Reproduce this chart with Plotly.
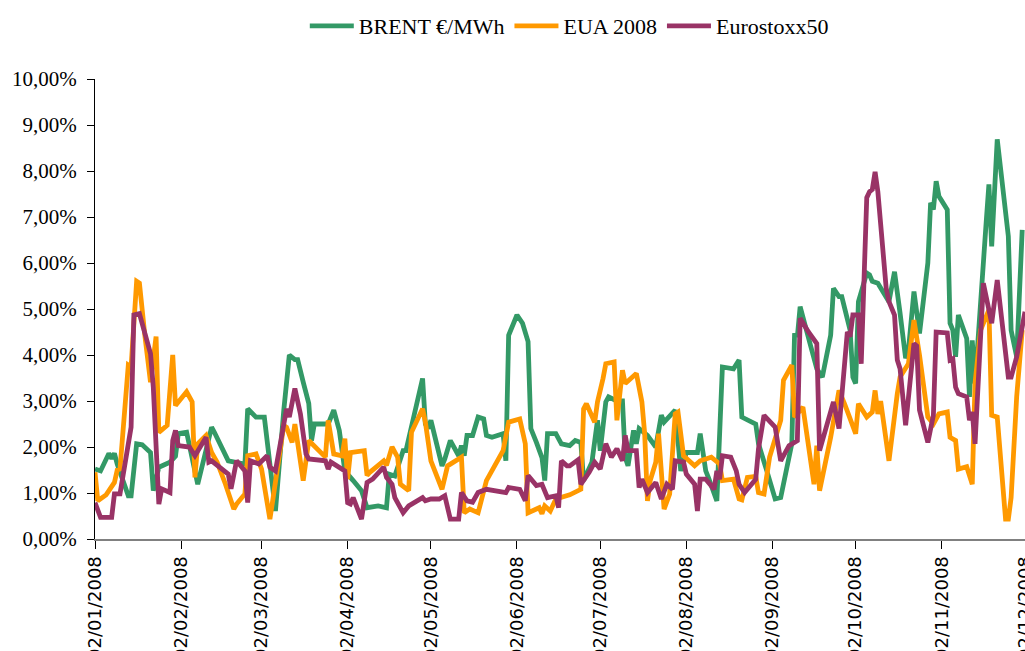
import pandas as pd
import plotly.graph_objects as go

START = "2008-01-02"

# day offsets from 02/01/2008 and volatility values in %
brent_day = [0, 2, 5, 6, 7, 8, 12, 13, 15, 17, 20, 21, 23, 27, 29, 30, 33, 37, 42, 43,
             48, 54, 55, 58, 61, 65, 68, 70, 72, 73, 75, 77, 78, 79, 84, 86, 88, 90, 93, 96,
             98, 102, 105, 106, 108, 111, 112, 118, 119, 120, 121, 125, 126, 128, 131, 132,
             133, 134, 136, 138, 140, 141, 143, 147, 148, 149, 152, 154, 156, 157, 159, 161,
             162, 163, 166, 168, 171, 173, 175, 176, 179, 181, 182, 184, 185, 188, 190, 191,
             192, 194, 195, 196, 199, 202, 204, 205, 209, 211, 213, 217, 218, 220, 221, 224,
             226, 230, 232, 233, 238, 239, 242, 245, 247, 251, 252, 253, 254, 257, 260, 262,
             265, 266, 268, 269, 272, 273, 274, 275, 278, 279, 280, 282, 285, 286, 288, 289,
             290, 292, 293, 295, 296, 297, 300, 301, 302, 303, 304, 307, 308, 309, 310, 311,
             314, 315, 316, 317, 321, 322, 323, 325, 329, 330, 332, 334]
brent_val = [1.52, 1.48, 1.86, 1.75, 1.86, 1.63, 0.94, 0.94, 2.07, 2.05, 1.88, 1.05, 1.56, 1.67, 1.80, 2.29, 2.32, 1.19, 2.43, 2.32,
             1.70, 1.63, 2.83, 2.65, 2.65, 0.61, 2.80, 4.00, 3.90, 3.90, 3.41, 2.95, 2.14, 2.50, 2.50, 2.80, 2.36, 1.48, 1.27, 1.05,
             0.68, 0.72, 0.68, 1.41, 1.37, 1.92, 1.92, 3.49, 2.50, 2.40, 2.58, 1.59, 1.74, 2.14, 1.81, 2.03,
             1.81, 2.25, 2.25, 2.65, 2.61, 2.25, 2.21, 2.29, 1.70, 4.43, 4.87, 4.69, 4.29, 2.40, 2.10, 1.77,
             1.27, 2.29, 2.29, 2.07, 2.03, 2.14, 2.10, 1.27, 1.67, 2.58, 1.92, 2.98, 3.09, 3.00, 3.00, 1.77,
             1.59, 2.36, 2.07, 2.40, 2.25, 2.00, 2.69, 2.54, 2.80, 1.48, 1.88, 1.88, 2.29, 1.48, 1.33, 0.83,
             3.74, 3.70, 3.89, 2.65, 2.50, 2.07, 1.48, 0.87, 0.90, 2.07, 4.47, 4.40, 5.05, 4.40, 3.70, 3.52,
             4.43, 5.45, 5.27, 5.27, 4.54, 3.52, 3.38, 5.16, 5.78, 5.74, 5.60, 5.56, 5.23, 5.16, 5.81, 5.27,
             4.91, 3.93, 4.10, 5.38, 4.98, 4.47, 6.00, 7.31, 7.16, 7.78, 7.45, 7.16, 4.69, 4.54, 3.96, 4.87,
             4.36, 3.09, 4.32, 3.38, 6.87, 7.71, 6.36, 8.69, 6.58, 4.54, 3.96, 6.72]

eua_day = [0, 1, 4, 7, 8, 9, 12, 13, 15, 16, 18, 20, 22, 23, 26, 28, 29, 33, 35, 36,
           37, 40, 42, 44, 47, 50, 51, 54, 55, 58, 60, 63, 64, 68, 69, 71, 72, 75, 77, 83,
           84, 86, 89, 90, 91, 92, 97, 98, 99, 104, 105, 107, 109, 110, 113, 114, 118, 119, 121, 125,
           127, 129, 132, 133, 135, 138, 141, 147, 149, 153, 155, 156, 160, 161, 162, 164, 166, 171, 175, 176,
           177, 180, 181, 183, 184, 187, 188, 190, 191, 195, 197, 198, 199, 200, 202, 203, 205, 207, 209, 210,
           212, 216, 218, 222, 225, 226, 230, 232, 233, 235, 238, 239, 241, 243, 247, 248, 251, 252, 255, 259,
           260, 261, 265, 268, 270, 274, 275, 278, 280, 281, 282, 283, 286, 289, 290, 293, 295, 297, 300, 302,
           304, 307, 308, 310, 311, 314, 316, 317, 319, 322, 323, 325, 328, 329, 330, 332, 334]
eua_val = [1.45, 0.83, 0.96, 1.23, 1.50, 1.52, 3.78, 3.74, 5.60, 5.56, 4.40, 3.41, 4.40, 2.32, 2.47, 4.00, 2.90, 3.20, 2.98, 1.34,
           2.07, 2.25, 1.88, 1.67, 1.19, 0.65, 0.76, 0.98, 1.81, 1.85, 1.52, 0.43, 0.83, 2.47, 2.43, 2.10, 2.50, 1.27, 2.14, 1.78,
           2.58, 1.85, 1.81, 2.18, 1.30, 1.88, 1.92, 1.38, 1.45, 1.70, 1.60, 2.00, 1.78, 1.19, 1.05, 2.32, 2.83, 2.54, 1.70, 1.08,
           1.59, 1.67, 1.78, 0.57, 0.65, 0.57, 1.27, 1.92, 2.54, 2.61, 2.07, 0.57, 0.68, 0.55, 0.72, 0.61, 0.87, 0.96, 1.08, 2.83,
           2.94, 2.54, 2.98, 3.49, 3.81, 3.85, 2.58, 3.67, 3.38, 3.60, 2.98, 2.29, 0.83, 1.27, 1.67, 2.29, 0.65, 0.98, 2.72, 2.76,
           1.81, 1.59, 1.70, 1.78, 1.63, 1.27, 1.30, 0.87, 0.85, 1.34, 1.36, 1.01, 0.98, 1.78, 2.58, 3.45, 3.78, 2.65, 2.87, 1.19,
           2.03, 1.05, 2.21, 3.23, 2.94, 2.29, 2.94, 2.65, 2.76, 3.23, 2.72, 3.00, 1.70, 3.16, 3.52, 3.81, 4.76, 4.00, 2.65, 2.50,
           2.72, 2.76, 2.21, 2.14, 1.52, 1.57, 1.19, 3.38, 4.54, 4.98, 2.69, 2.65, 0.43, 0.43, 0.90, 3.09, 4.54]

stoxx_day = [0, 2, 6, 7, 9, 11, 13, 14, 16, 20, 21, 23, 24, 27, 28, 29, 30, 34, 36, 40,
             41, 42, 44, 48, 49, 51, 54, 55, 56, 59, 62, 63, 65, 69, 70, 72, 74, 76, 77, 83,
             84, 85, 90, 91, 92, 93, 96, 98, 100, 104, 105, 107, 108, 111, 113, 116, 118, 119, 121, 124,
             126, 128, 131, 132, 134, 136, 138, 141, 148, 149, 153, 155, 156, 159, 161, 163, 166, 167, 168, 170,
             171, 174, 175, 178, 180, 182, 184, 186, 188, 190, 191, 192, 195, 196, 197, 199, 202, 204, 206, 208,
             209, 212, 213, 216, 217, 218, 220, 223, 224, 225, 226, 229, 231, 232, 234, 238, 239, 241, 245, 247,
             250, 253, 254, 257, 259, 260, 261, 265, 266, 268, 271, 272, 273, 275, 276, 278, 279, 280, 281, 282,
             285, 286, 288, 289, 290, 292, 295, 296, 297, 300, 302, 303, 307, 308, 309, 310, 311, 314, 315, 316,
             317, 320, 323, 325, 329, 330, 332, 335]
stoxx_val = [0.79, 0.47, 0.47, 0.98, 0.98, 1.78, 2.43, 4.87, 4.90, 4.03, 3.30, 0.76, 1.09, 1.01, 2.14, 2.36, 2.03, 2.00, 1.81, 2.21,
             1.67, 1.70, 1.60, 1.41, 1.09, 1.70, 1.48, 0.79, 1.70, 1.63, 1.81, 1.56, 1.48, 2.83, 2.65, 3.27, 2.72, 1.85, 1.74, 1.70,
             1.52, 1.67, 1.48, 0.79, 0.76, 0.90, 0.43, 1.23, 1.30, 1.56, 1.34, 1.19, 0.90, 0.57, 0.72, 0.83, 0.90, 0.83, 0.87, 0.87,
             0.94, 0.43, 0.43, 1.01, 0.83, 0.80, 1.01, 1.08, 1.01, 1.12, 1.08, 0.83, 1.38, 1.16, 1.19, 0.90, 0.94, 0.68, 1.70, 1.59,
             1.59, 1.72, 1.19, 1.45, 1.67, 1.52, 2.07, 1.78, 1.96, 1.70, 2.25, 1.92, 1.92, 1.12, 1.30, 1.01, 1.23, 0.87, 1.19, 1.08,
             1.70, 1.67, 1.41, 1.19, 0.61, 1.30, 1.30, 1.08, 1.48, 1.30, 1.81, 1.78, 1.48, 1.19, 1.01, 1.30, 1.96, 2.69, 2.43, 1.70,
             2.03, 2.14, 4.80, 4.50, 4.30, 4.25, 1.92, 2.80, 2.98, 2.40, 4.50, 4.40, 4.87, 4.87, 3.81, 7.42, 7.55, 7.60, 7.98, 7.55,
             5.45, 5.16, 4.87, 3.89, 3.70, 2.47, 4.25, 4.20, 2.80, 2.10, 2.69, 4.50, 4.48, 3.89, 3.92, 3.30, 3.16, 3.09, 2.58, 2.76,
             2.07, 5.56, 4.69, 5.63, 3.52, 3.52, 3.96, 4.94]

series_names = ["BRENT €/MWh", "EUA 2008", "Eurostoxx50"]
series_colors = ["#339966", "#FF9900", "#993366"]

tick_dates = ["2008-01-02", "2008-02-02", "2008-03-02", "2008-04-02", "2008-05-02", "2008-06-02",
              "2008-07-02", "2008-08-02", "2008-09-02", "2008-10-02", "2008-11-02", "2008-12-02"]
tick_labels = ["02/01/2008", "02/02/2008", "02/03/2008", "02/04/2008", "02/05/2008", "02/06/2008",
               "02/07/2008", "02/08/2008", "02/09/2008", "02/10/2008", "02/11/2008", "02/12/2008"]
y_ticks = [0, 1, 2, 3, 4, 5, 6, 7, 8, 9, 10]
y_labels = ["0,00%", "1,00%", "2,00%", "3,00%", "4,00%", "5,00%",
            "6,00%", "7,00%", "8,00%", "9,00%", "10,00%"]

base = pd.Timestamp(START)


def to_dates(days):
    return [base + pd.Timedelta(days=d) for d in days]


fig = go.Figure()
for name, color, days, vals in zip(series_names, series_colors,
                                   [brent_day, eua_day, stoxx_day],
                                   [brent_val, eua_val, stoxx_val]):
    fig.add_trace(go.Scatter(x=to_dates(days), y=vals, name=name, mode="lines",
                             line=dict(color=color, width=4.8)))

fig.update_layout(
    width=1025, height=651,
    margin=dict(l=95, r=0, t=79, b=112),
    paper_bgcolor="white", plot_bgcolor="white",
    showlegend=True,
    legend=dict(orientation="h", x=0.51, xanchor="center", y=1.115, yanchor="middle",
                font=dict(family="Liberation Serif", size=22, color="black"),
                bgcolor="rgba(0,0,0,0)", itemwidth=44),
    xaxis=dict(type="date", range=[tick_dates[0], tick_dates[-1]], automargin=False,
               tickmode="array", tickvals=tick_dates, ticktext=tick_labels,
               tickangle=-90, showgrid=False, zeroline=False, ticklabeloverflow="allow",
               showline=True, linecolor="#808080", linewidth=2,
               ticks="outside", ticklen=8, tickcolor="black", tickwidth=1,
               tickfont=dict(family="DejaVu Sans", size=18, color="black")),
    yaxis=dict(range=[0, 10], tickmode="array", tickvals=y_ticks, ticktext=y_labels,
               automargin=False, showgrid=False, zeroline=False,
               showline=True, linecolor="black", linewidth=1,
               ticks="outside", ticklen=7, tickcolor="black", ticklabelstandoff=6,
               tickfont=dict(family="Liberation Serif", size=21, color="black")),
)

fig.write_html("out.html", config={"displayModeBar": False},
               post_script="document.body.style.margin='0px';document.body.style.overflow='hidden';")
